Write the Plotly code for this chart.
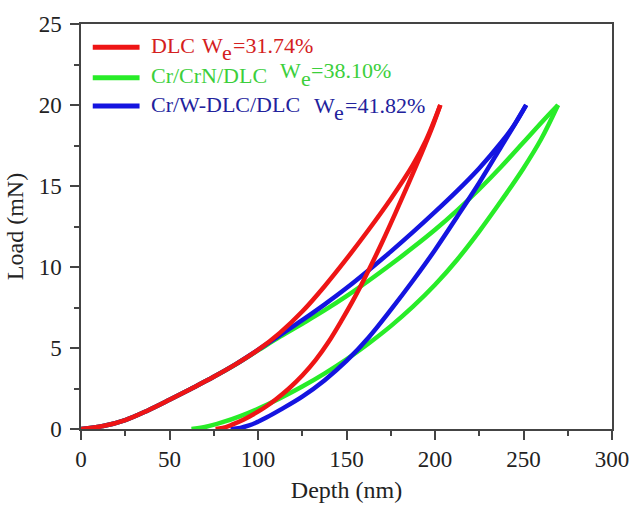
import plotly.graph_objects as go

# Nanoindentation load-depth curves (loading and unloading branches)
dlc_load_depth = [0, 12.5, 25, 37.5, 50, 62.5, 75, 87.5, 100, 112.5, 125, 137.5, 150, 162.5, 175, 187.5, 195, 203]
dlc_load_force = [0, 0.18, 0.55, 1.13, 1.8, 2.5, 3.22, 4.0, 4.88, 5.95, 7.25, 8.8, 10.5, 12.3, 14.2, 16.3, 17.85, 20]
dlc_unload_depth = [203, 198, 192.5, 185, 177.5, 170, 162.5, 155, 147.5, 140, 132.5, 125, 117.5, 110, 105, 100, 91.7, 85, 80, 76]
dlc_unload_force = [20, 18.5, 17.05, 15.15, 13.3, 11.5, 9.8, 8.2, 6.75, 5.4, 4.25, 3.3, 2.5, 1.82, 1.42, 1.07, 0.57, 0.25, 0.06, 0]

crn_load_depth = [0, 12.5, 25, 37.5, 50, 62.5, 75, 87.5, 100, 112.5, 125, 137.5, 150, 162.5, 175, 187.5, 200, 212.5, 225, 237.5, 250, 262.5, 269.5]
crn_load_force = [0, 0.18, 0.55, 1.13, 1.8, 2.5, 3.22, 4.0, 4.85, 5.7, 6.5, 7.32, 8.2, 9.15, 10.15, 11.2, 12.3, 13.5, 14.8, 16.2, 17.7, 19.2, 20]
crn_unload_depth = [269.5, 260, 250, 237.5, 225, 212.5, 200, 187.5, 175, 162.5, 150, 137.5, 125, 112.5, 100, 90, 80, 70, 62.4]
crn_unload_force = [20, 17.9, 16.1, 14.1, 12.2, 10.45, 8.9, 7.55, 6.35, 5.28, 4.3, 3.42, 2.62, 1.9, 1.25, 0.8, 0.42, 0.12, 0]

wdlc_load_depth = [0, 12.5, 25, 37.5, 50, 62.5, 75, 87.5, 100, 112.5, 125, 137.5, 150, 162.5, 175, 187.5, 200, 212.5, 225, 237.5, 245, 251.5]
wdlc_load_force = [0, 0.18, 0.55, 1.13, 1.8, 2.5, 3.22, 4.0, 4.88, 5.8, 6.72, 7.68, 8.7, 9.8, 10.95, 12.15, 13.4, 14.7, 16.1, 17.7, 18.8, 20]
wdlc_unload_depth = [251.5, 245, 237.5, 225, 212.5, 200, 187.5, 175, 162.5, 150, 137.5, 125, 112.5, 105, 100, 95, 90, 84.5]
wdlc_unload_force = [20, 18.8, 17.45, 15.2, 13.1, 11.05, 9.15, 7.35, 5.65, 4.2, 3.0, 2.0, 1.18, 0.72, 0.45, 0.22, 0.07, 0]

sample_names = ["DLC", "Cr/CrN/DLC", "Cr/W-DLC/DLC"]
elastic_work = ["=31.74%", "=38.10%", "=41.82%"]
line_colors = ["#ee1515", "#28ec28", "#1414e0"]
text_colors = ["#d42020", "#3ccf3c", "#22229c"]

x_ticks = [0, 50, 100, 150, 200, 250, 300]
y_ticks = [0, 5, 10, 15, 20, 25]

SERIF = "Liberation Serif"

fig = go.Figure()

curves = [
    (1, crn_load_depth, crn_load_force, crn_unload_depth, crn_unload_force),
    (2, wdlc_load_depth, wdlc_load_force, wdlc_unload_depth, wdlc_unload_force),
    (0, dlc_load_depth, dlc_load_force, dlc_unload_depth, dlc_unload_force),
]
for idx, ld, lf, ud, uf in curves:
    for xs, ys in ((ld, lf), (ud, uf)):
        fig.add_trace(go.Scatter(
            x=xs, y=ys, mode="lines",
            line=dict(color=line_colors[idx], width=4.5, shape="spline", smoothing=1.0),
            showlegend=False, hoverinfo="skip",
        ))

# Hand-placed legend: short line sample + coloured label per row
L, R, T, B = 80.7, 623.0, 23.0, 436.0
def px(x):
    return (x - L) / (R - L)
def py(y):
    return (B - y) / (B - T)

def label(x, baseline, text, color):
    # annotation box bottom sits ~4 px under the text baseline
    fig.add_annotation(xref="paper", yref="paper", x=px(x), y=py(baseline + 4),
                       xanchor="left", yanchor="bottom", showarrow=False, text=text,
                       borderpad=0, font=dict(family=SERIF, size=22, color=color))

row_line_y = [46.7, 77.7, 106.7]
name_base = [54.3, 85.0, 115.0]
w_base = [54.3, 80.0, 115.5]
w_x = [203.3, 283.3, 317.5]
for i in range(3):
    fig.add_shape(type="line", xref="paper", yref="paper",
                  x0=px(92.7), x1=px(140.5), y0=py(row_line_y[i]), y1=py(row_line_y[i]),
                  line=dict(color=line_colors[i], width=5))
    label(151.5, name_base[i], sample_names[i], text_colors[i])
    label(w_x[i], w_base[i], "W", text_colors[i])
    label(w_x[i] + 20.8, w_base[i] + 8, "e", text_colors[i])
    label(w_x[i] + 31.5, w_base[i], elastic_work[i], text_colors[i])

axis_common = dict(
    showline=True, linecolor="#444444", linewidth=1.5, mirror=True,
    ticks="outside", tickcolor="#444444", tickwidth=1.5,
    showgrid=False, zeroline=False,
    tickfont=dict(family=SERIF, size=23, color="#222222"),
)
fig.update_xaxes(range=[0, 300], tickvals=x_ticks, ticklen=9,
                 minor=dict(dtick=25, ticks="outside", ticklen=5, tickcolor="#444444", tickwidth=1.5),
                 title=dict(text="Depth (nm)", font=dict(family=SERIF, size=24, color="#222222"), standoff=10),
                 **axis_common)
fig.update_yaxes(range=[0, 25], tickvals=y_ticks, ticklen=9, ticklabelstandoff=4,
                 minor=dict(dtick=2.5, ticks="outside", ticklen=5, tickcolor="#444444", tickwidth=1.5),
                 title=dict(text="Load (mN)", font=dict(family=SERIF, size=24, color="#222222"), standoff=8),
                 **axis_common)

fig.update_layout(
    width=641, height=511,
    margin=dict(l=L, r=641 - R, t=T, b=511 - B),
    paper_bgcolor="white", plot_bgcolor="white",
    showlegend=False,
)

fig.write_html("out.html")
